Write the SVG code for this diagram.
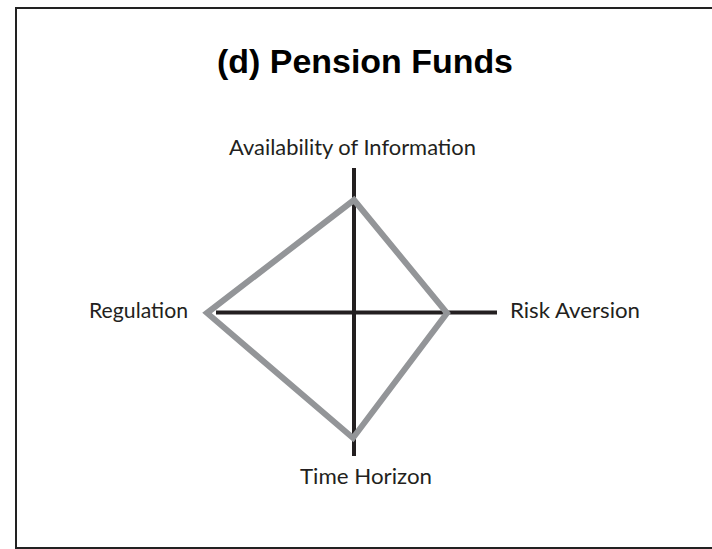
<svg xmlns="http://www.w3.org/2000/svg" width="712" height="549" viewBox="0 0 712 549">
<style>
.lbl{font-family:Lato,"Open Sans","Liberation Sans",sans-serif;font-size:21px;fill:#231f20}
.axis{stroke:#231f20;stroke-width:4;fill:none}
.title{font-family:"Liberation Sans",Arial,sans-serif;font-weight:bold;font-size:33px;fill:#000}
</style>
<rect x="16" y="8" width="705" height="540" fill="#fff" stroke="#222" stroke-width="2"/>
<g id="title"><text class="title" x="217" y="73" textLength="296" lengthAdjust="spacingAndGlyphs">(d) Pension Funds</text></g>
<g id="connectors">
<line class="axis" x1="354" y1="168" x2="354" y2="456"/>
<line class="axis" x1="216" y1="312.5" x2="497" y2="312.5"/>
</g>
<g id="profile">
<polygon points="354,200 447,313 353,438 207,313" fill="none" stroke="#939598" stroke-width="6" stroke-linejoin="miter"/>
</g>
<g id="node-info"><text class="lbl" x="229" y="155" textLength="247" lengthAdjust="spacingAndGlyphs">Availability of Information</text></g>
<g id="node-regulation"><text class="lbl" x="89" y="318" textLength="99" lengthAdjust="spacingAndGlyphs">Regulation</text></g>
<g id="node-risk"><text class="lbl" x="510" y="318" textLength="130" lengthAdjust="spacingAndGlyphs">Risk Aversion</text></g>
<g id="node-time"><text class="lbl" x="300" y="484" textLength="132" lengthAdjust="spacingAndGlyphs">Time Horizon</text></g>
</svg>
